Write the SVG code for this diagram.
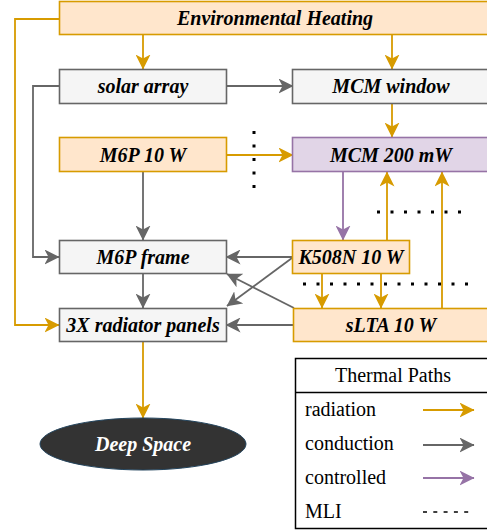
<svg xmlns="http://www.w3.org/2000/svg" width="487" height="531" viewBox="0 0 487 531">
<defs>
<style>
.orange{fill:#ffe6cc;stroke:#d79b00;stroke-width:1.6}
.gray{fill:#f5f5f5;stroke:#666666;stroke-width:1.6}
.purple{fill:#e1d5e7;stroke:#9673a6;stroke-width:1.6}
.lbl{font-family:"Liberation Serif",serif;font-weight:bold;font-style:italic;font-size:20px;text-anchor:middle;fill:#000}
.rad{fill:none;stroke:#d79b00;stroke-width:1.8}
.con{fill:none;stroke:#666666;stroke-width:1.8}
.ctl{fill:none;stroke:#9673a6;stroke-width:1.8}
.mli{fill:none;stroke:#000;stroke-width:3;stroke-dasharray:3 10.5}
.leg{font-family:"Liberation Serif",serif;font-size:20px;fill:#000}
</style>
<marker id="aR" viewBox="0 0 15 15" refX="14.5" refY="7.5" markerWidth="15" markerHeight="15" markerUnits="userSpaceOnUse" orient="auto"><path d="M0,0 L15,7.5 L0,15 L4,7.5 Z" fill="#d79b00"/></marker>
<marker id="aC" viewBox="0 0 15 15" refX="14.5" refY="7.5" markerWidth="15" markerHeight="15" markerUnits="userSpaceOnUse" orient="auto"><path d="M0,0 L15,7.5 L0,15 L4,7.5 Z" fill="#666666"/></marker>
<marker id="aP" viewBox="0 0 15 15" refX="14.5" refY="7.5" markerWidth="15" markerHeight="15" markerUnits="userSpaceOnUse" orient="auto"><path d="M0,0 L15,7.5 L0,15 L4,7.5 Z" fill="#9673a6"/></marker>
</defs>
<rect width="487" height="531" fill="#ffffff"/>
<g id="connectors">
<path class="rad" d="M59,19 H15 V325 H59" marker-end="url(#aR)"/>
<path class="rad" d="M143,35 V69" marker-end="url(#aR)"/>
<path class="rad" d="M392,35 V69" marker-end="url(#aR)"/>
<path class="con" d="M227,86 H293" marker-end="url(#aC)"/>
<path class="con" d="M59,86 H33 V257 H59" marker-end="url(#aC)"/>
<path class="rad" d="M392,103 V137" marker-end="url(#aR)"/>
<path class="rad" d="M226,155 H293" marker-end="url(#aR)"/>
<path class="con" d="M143,172 V240" marker-end="url(#aC)"/>
<path class="ctl" d="M343,172 V240" marker-end="url(#aP)"/>
<path class="rad" d="M387,240 V172" marker-end="url(#aR)"/>
<path class="rad" d="M442,308 V172" marker-end="url(#aR)"/>
<path class="con" d="M293,257 H226" marker-end="url(#aC)"/>
<path class="con" d="M292,258 L227,306" marker-end="url(#aC)"/>
<path class="con" d="M294,308 L227,274" marker-end="url(#aC)"/>
<path class="con" d="M143,274 V308" marker-end="url(#aC)"/>
<path class="con" d="M294,325 H226" marker-end="url(#aC)"/>
<path class="rad" d="M322,274 V308" marker-end="url(#aR)"/>
<path class="rad" d="M381,274 V308" marker-end="url(#aR)"/>
<path class="rad" d="M143,342 V418" marker-end="url(#aR)"/>
<path class="mli" d="M254,131 V190"/>
<path class="mli" d="M377,212 H462"/>
<path class="mli" d="M303,284 H472"/>
</g>
<g id="env-heating"><rect class="orange" x="59.5" y="1.5" width="440" height="33"/><text class="lbl" x="275" y="25">Environmental Heating</text></g>
<g id="solar-array"><rect class="gray" x="59.5" y="69.5" width="167" height="34"/><text class="lbl" x="143" y="93">solar array</text></g>
<g id="mcm-window"><rect class="gray" x="292.5" y="69.5" width="210" height="34"/><text class="lbl" x="391" y="93">MCM window</text></g>
<g id="m6p"><rect class="orange" x="59.5" y="137.5" width="167" height="34"/><text class="lbl" x="143" y="162">M6P 10 W</text></g>
<g id="mcm"><rect class="purple" x="292.5" y="137.5" width="210" height="34"/><text class="lbl" x="391" y="162">MCM 200 mW</text></g>
<g id="m6p-frame"><rect class="gray" x="59.5" y="240.5" width="167" height="33"/><text class="lbl" x="143" y="264">M6P frame</text></g>
<g id="k508n"><rect class="orange" x="292.5" y="240.5" width="117" height="33"/><text class="lbl" x="351" y="264">K508N 10 W</text></g>
<g id="radiators"><rect class="gray" x="59.5" y="308.5" width="167" height="33"/><text class="lbl" x="143" y="332">3X radiator panels</text></g>
<g id="slta"><rect class="orange" x="293.5" y="308.5" width="210" height="33"/><text class="lbl" x="391" y="332">sLTA 10 W</text></g>
<g id="deep-space"><ellipse cx="143" cy="444" rx="103" ry="26" fill="#333333" stroke="#23445d" stroke-width="1"/><text class="lbl" x="143" y="451" style="fill:#ffffff">Deep Space</text></g>
<g id="legend">
<rect x="295.5" y="358.5" width="200" height="170" fill="#ffffff" stroke="#000" stroke-width="1.5"/>
<line x1="295" y1="392.5" x2="487" y2="392.5" stroke="#000" stroke-width="1.5"/>
<text class="leg" x="393" y="382" text-anchor="middle">Thermal Paths</text>
<text class="leg" x="305" y="416">radiation</text>
<text class="leg" x="305" y="450">conduction</text>
<text class="leg" x="305" y="484">controlled</text>
<text class="leg" x="305" y="518">MLI</text>
<path class="rad" d="M423,410 H474" marker-end="url(#aR)"/>
<path class="con" d="M423,445 H474" marker-end="url(#aC)"/>
<path class="ctl" d="M423,478 H474" marker-end="url(#aP)"/>
<path d="M423,512 H470" stroke="#000" stroke-width="1.5" stroke-dasharray="4 6.3"/>
</g>
</svg>
